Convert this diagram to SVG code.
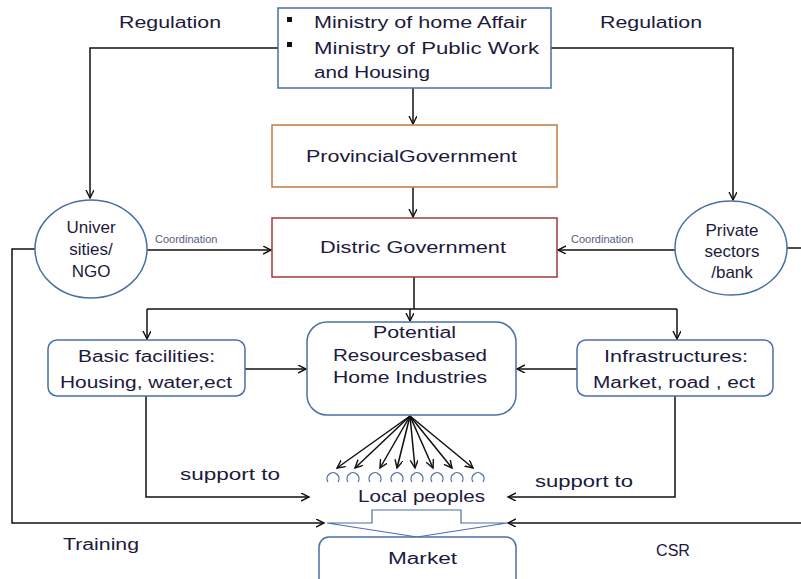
<svg xmlns="http://www.w3.org/2000/svg" width="801" height="579" viewBox="0 0 801 579">
<style>
  text { font-family: "Liberation Sans", Arial, sans-serif; fill: #1c1a3c; }
  .t { font-size: 16px; }
  .cl { font-size: 17px; text-anchor: middle; }
  .small { font-size: 11px; fill: #55607e; }
  .blue { fill: #ffffff; stroke: #4a6fa5; stroke-width: 1.5; }
  .ln { fill: none; stroke: #111; stroke-width: 1.5; }
  .arc { fill: none; stroke: #4a6fa5; stroke-width: 1.3; }
</style>
<defs>
  <marker id="ah" markerWidth="10" markerHeight="10" refX="8" refY="4" orient="auto" markerUnits="userSpaceOnUse">
    <path d="M0,0 L8,4 L0,8" fill="none" stroke="#111" stroke-width="1.4"/>
  </marker>
</defs>
<rect width="801" height="579" fill="#ffffff"/>

<g id="connectors">
  <path class="ln" d="M413,88 V124" marker-end="url(#ah)"/>
  <path class="ln" d="M413,187 V217" marker-end="url(#ah)"/>
  <path class="ln" d="M278,48 H90 V198" marker-end="url(#ah)"/>
  <path class="ln" d="M551,48 H733 V200" marker-end="url(#ah)"/>
  <path class="ln" d="M147,250 H271" marker-end="url(#ah)"/>
  <path class="ln" d="M675,250 H558" marker-end="url(#ah)"/>
  <path class="ln" d="M414,277 V309"/>
  <path class="ln" d="M147,309 H677"/>
  <path class="ln" d="M147,309 V339" marker-end="url(#ah)"/>
  <path class="ln" d="M677,309 V339" marker-end="url(#ah)"/>
  <path class="ln" d="M410,309 V321" marker-end="url(#ah)"/>
  <path class="ln" d="M245,369 H306" marker-end="url(#ah)"/>
  <path class="ln" d="M577,369 H517" marker-end="url(#ah)"/>
  <g>
    <path class="ln" d="M410,416 L337,468" marker-end="url(#ah)"/>
    <path class="ln" d="M410,416 L355,468" marker-end="url(#ah)"/>
    <path class="ln" d="M410,416 L380,468" marker-end="url(#ah)"/>
    <path class="ln" d="M410,416 L397,468" marker-end="url(#ah)"/>
    <path class="ln" d="M410,416 L415,468" marker-end="url(#ah)"/>
    <path class="ln" d="M410,416 L433,468" marker-end="url(#ah)"/>
    <path class="ln" d="M410,416 L452,468" marker-end="url(#ah)"/>
    <path class="ln" d="M410,416 L473,468" marker-end="url(#ah)"/>
  </g>
  <path class="ln" d="M146,396 V497 H309" marker-end="url(#ah)"/>
  <path class="ln" d="M675,396 V497 H508" marker-end="url(#ah)"/>
  <path class="ln" d="M35,249 H12 V523 H324" marker-end="url(#ah)"/>
  <path class="ln" d="M787,248 H801"/>
  <path class="ln" d="M801,523 H508" marker-end="url(#ah)"/>
</g>

<g id="ministry">
  <rect x="278" y="8" width="273" height="80" fill="#fff" stroke="#4a6fa5" stroke-width="1.5"/>
  <rect x="287" y="17" width="5" height="5" fill="#111"/>
  <rect x="287" y="42" width="5" height="5" fill="#111"/>
  <text class="t" x="314" y="28" textLength="213" lengthAdjust="spacingAndGlyphs">Ministry of home Affair</text>
  <text class="t" x="314" y="54" textLength="225" lengthAdjust="spacingAndGlyphs">Ministry  of  Public Work</text>
  <text class="t" x="314" y="78" textLength="116" lengthAdjust="spacingAndGlyphs">and Housing</text>
</g>

<g id="provincial">
  <rect x="272" y="125" width="285" height="62" fill="#fff" stroke="#c07a3e" stroke-width="1.5"/>
  <text class="t" x="306" y="162" textLength="211" lengthAdjust="spacingAndGlyphs">ProvincialGovernment</text>
</g>

<g id="district">
  <rect x="272" y="218" width="285" height="59" fill="#fff" stroke="#9e3a38" stroke-width="1.5"/>
  <text class="t" x="320" y="253" textLength="186" lengthAdjust="spacingAndGlyphs">Distric Government</text>
</g>

<g id="universities">
  <ellipse class="blue" cx="91" cy="249" rx="56" ry="49"/>
  <text class="cl" x="91" y="233">Univer</text>
  <text class="cl" x="91" y="255">sities/</text>
  <text class="cl" x="91" y="277">NGO</text>
</g>

<g id="private">
  <ellipse class="blue" cx="731" cy="248" rx="56" ry="47"/>
  <text class="cl" x="732" y="236">Private</text>
  <text class="cl" x="732" y="257">sectors</text>
  <text class="cl" x="732" y="278">/bank</text>
</g>

<g id="labels">
  <text class="t" x="119" y="28" textLength="102" lengthAdjust="spacingAndGlyphs">Regulation</text>
  <text class="t" x="600" y="28" textLength="102" lengthAdjust="spacingAndGlyphs">Regulation</text>
  <text class="small" x="155" y="243">Coordination</text>
  <text class="small" x="571" y="243">Coordination</text>
  <text class="t" x="180" y="480" textLength="100" lengthAdjust="spacingAndGlyphs">support to</text>
  <text class="t" x="535" y="487" textLength="98" lengthAdjust="spacingAndGlyphs">support to</text>
  <text class="t" x="63" y="550" textLength="76" lengthAdjust="spacingAndGlyphs">Training</text>
  <text class="t" x="656" y="556" textLength="34" lengthAdjust="spacingAndGlyphs">CSR</text>
</g>

<g id="basic">
  <rect class="blue" x="48" y="340" width="197" height="56" rx="9"/>
  <text class="t" x="78" y="362" textLength="137" lengthAdjust="spacingAndGlyphs">Basic facilities:</text>
  <text class="t" x="60" y="388" textLength="172" lengthAdjust="spacingAndGlyphs">Housing, water,ect</text>
</g>

<g id="potential">
  <rect class="blue" x="307" y="322" width="209" height="93" rx="20"/>
  <text class="t" x="373" y="338" textLength="83" lengthAdjust="spacingAndGlyphs">Potential</text>
  <text class="t" x="333" y="361" textLength="154" lengthAdjust="spacingAndGlyphs">Resourcesbased</text>
  <text class="t" x="333" y="383" textLength="154" lengthAdjust="spacingAndGlyphs">Home Industries</text>
</g>

<g id="infrastructures">
  <rect class="blue" x="577" y="340" width="196" height="56" rx="9"/>
  <text class="t" x="604" y="362" textLength="144" lengthAdjust="spacingAndGlyphs">Infrastructures:</text>
  <text class="t" x="593" y="388" textLength="162" lengthAdjust="spacingAndGlyphs">Market, road , ect</text>
</g>

<g id="local-peoples">
  <path class="arc" d="M328,482 A6,6 0 1 1 338,482"/>
  <path class="arc" d="M348,482 A6,6 0 1 1 358,482"/>
  <path class="arc" d="M370,482 A6,6 0 1 1 380,482"/>
  <path class="arc" d="M392,482 A6,6 0 1 1 402,482"/>
  <path class="arc" d="M412,482 A6,6 0 1 1 422,482"/>
  <path class="arc" d="M432,482 A6,6 0 1 1 442,482"/>
  <path class="arc" d="M452,482 A6,6 0 1 1 462,482"/>
  <path class="arc" d="M473,482 A6,6 0 1 1 483,482"/>
  <text class="t" x="358" y="502" textLength="127" lengthAdjust="spacingAndGlyphs">Local peoples</text>
  <path d="M372,523 L372,510 L461,510 L461,523 L507,523 L417,537 L327,523 Z" fill="#fff" stroke="#4a6fa5" stroke-width="1.2"/>
</g>

<g id="market">
  <rect class="blue" x="319" y="537" width="197" height="60" rx="10"/>
  <text class="t" x="388" y="564" textLength="69" lengthAdjust="spacingAndGlyphs">Market</text>
</g>
</svg>
